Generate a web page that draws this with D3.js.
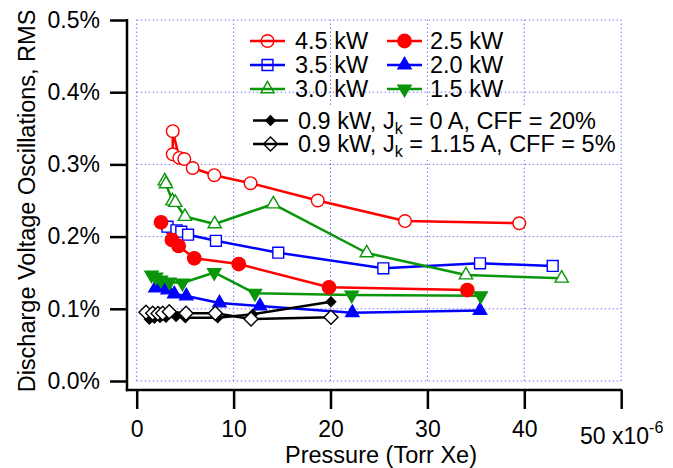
<!DOCTYPE html>
<html>
<head>
<meta charset="utf-8">
<script src="https://cdn.jsdelivr.net/npm/d3@7"></script>
<style>
  html, body { margin: 0; padding: 0; background: #fff; }
  svg { display: block; font-family: "Liberation Sans", Arial, Helvetica, sans-serif; }
</style>
</head>
<body>
<svg id="chart" width="673" height="468"></svg>
<script>
// Pressure in units of 1e-6 Torr Xe, oscillation amplitude in percent RMS
const xTicks = [0, 10, 20, 30, 40, 50];
const yTicks = [0, 0.1, 0.2, 0.3, 0.4, 0.5];

const p45 = [3.72, 3.72, 4.40, 4.91, 5.78, 8.01, 11.75, 18.68, 27.69, 39.48];
const v45 = [0.314, 0.346, 0.309, 0.3075, 0.295, 0.285, 0.274, 0.250, 0.2215, 0.2185];

const p35 = [3.18, 4.1, 4.6, 5.3, 8.18, 14.61, 25.45, 35.43, 42.93];
const v35 = [0.2137, 0.2087, 0.2068, 0.2026, 0.1942, 0.1777, 0.1561, 0.163, 0.1593];

const p30 = [2.89, 3.02, 3.69, 3.98, 4.98, 8.05, 14.10, 23.74, 33.98, 43.86];
const v30 = [0.277, 0.273, 0.2493, 0.2472, 0.2278, 0.2175, 0.2451, 0.1773, 0.1468, 0.1422];

const p25 = [2.51, 3.64, 4.33, 5.94, 10.53, 19.85, 34.12];
const v25 = [0.2198, 0.1953, 0.187, 0.170, 0.162, 0.1298, 0.126];

const p20 = [1.94, 2.68, 3.2, 3.88, 5.12, 8.54, 12.72, 22.25, 35.43];
const v20 = [0.1288, 0.1309, 0.126, 0.1205, 0.1177, 0.108, 0.1039, 0.0946, 0.0976];

const p15 = [1.53, 1.99, 2.5, 3.38, 4.72, 8.0, 12.2, 22.19, 35.5];
const v15 = [0.1468, 0.144, 0.140, 0.137, 0.1357, 0.1503, 0.1215, 0.1191, 0.1181];

const p09a = [1.3, 1.82, 2.4, 3.02, 4.06, 5.02, 8.36, 11.97, 20.05];
const v09a = [0.0855, 0.0868, 0.0879, 0.0882, 0.0893, 0.0877, 0.0877, 0.0924, 0.1098];

const p09b = [0.96, 1.65, 2.2, 2.68, 3.36, 5.09, 8.11, 11.8, 20.05];
const v09b = [0.0952, 0.0938, 0.0935, 0.0938, 0.096, 0.0938, 0.0938, 0.0859, 0.0882];

const RED = "#ff0000", BLUE = "#0000ff", GREEN = "#0a960a", BLACK = "#000000";

const series = [
  { label: "4.5 kW", p: p45, v: v45, color: RED,   shape: "circle",   filled: false },
  { label: "3.5 kW", p: p35, v: v35, color: BLUE,  shape: "square",   filled: false },
  { label: "3.0 kW", p: p30, v: v30, color: GREEN, shape: "triUp",    filled: false },
  { label: "2.5 kW", p: p25, v: v25, color: RED,   shape: "circle",   filled: true },
  { label: "2.0 kW", p: p20, v: v20, color: BLUE,  shape: "triUp",    filled: true },
  { label: "1.5 kW", p: p15, v: v15, color: GREEN, shape: "triDown",  filled: true },
  { label: "0.9 kW, J|k| = 0 A, CFF = 20%",   p: p09a, v: v09a, color: BLACK, shape: "diamondS", filled: true },
  { label: "0.9 kW, J|k| = 1.15 A, CFF = 5%", p: p09b, v: v09b, color: BLACK, shape: "diamond",  filled: false }
];

const FONT = 23.5, TICK_FONT = 23;

const svg = d3.select("#chart");
const x = d3.scaleLinear().domain([0, 50]).range([136.7, 621.2]);
const y = d3.scaleLinear().domain([0, 0.5]).range([381, 20]);

const axisX = 127, axisY = 390;

// marker path generator
function markerPath(shape) {
  switch (shape) {
    case "circle":   return d3.symbol(d3.symbolCircle, 125)();
    case "square":   return d3.symbol(d3.symbolSquare, 118)();
    case "triUp":    return d3.symbol(d3.symbolTriangle, 76)();
    case "triDown":  return d3.symbol(d3.symbolTriangle, 76)();
    case "diamond":  return d3.symbol(d3.symbolSquare, 98)();
    case "diamondS": return d3.symbol(d3.symbolSquare, 45)();
  }
}
function markerRotate(shape) {
  if (shape === "triDown") return 180;
  if (shape === "diamond" || shape === "diamondS") return 45;
  return 0;
}
function markerSize(s) {
  return s.shape === "circle" && s.filled ? d3.symbol(d3.symbolCircle, 140)() : markerPath(s.shape);
}

// grid (dotted)
const grid = svg.append("g").attr("stroke", "#7373ff").attr("stroke-width", 1)
  .attr("stroke-dasharray", "1.5,2.5").attr("fill", "none");
grid.selectAll("line.gx").data(xTicks).join("line")
  .attr("x1", d => x(d)).attr("x2", d => x(d))
  .attr("y1", y(0)).attr("y2", y(0.5));
grid.selectAll("line.gy").data(yTicks).join("line")
  .attr("x1", x(0)).attr("x2", x(50))
  .attr("y1", d => y(d)).attr("y2", d => y(d));

// axes
const yAxis = d3.axisLeft(y).tickValues(yTicks).tickSize(17).tickSizeOuter(0).tickPadding(10)
  .tickFormat(d => d3.format(".1f")(d) + "%");
const gy = svg.append("g").attr("transform", `translate(${axisX},0)`).call(yAxis);
const xAxis = d3.axisBottom(x).tickValues(xTicks).tickSize(19).tickSizeOuter(0).tickPadding(12)
  .tickFormat(d3.format("d"));
const gx = svg.append("g").attr("transform", `translate(0,${axisY})`).call(xAxis);

[gx, gy].forEach(g => {
  g.select(".domain").remove();
  g.selectAll(".tick line").attr("stroke", "#000").attr("stroke-width", 2.5);
  g.selectAll(".tick text").attr("fill", "#000").attr("font-size", TICK_FONT)
    .attr("font-family", "'Liberation Sans', Arial, sans-serif");
});

// exponent on the last x label
gx.selectAll(".tick text").filter(d => d === 50).each(function () {
  const t = d3.select(this);
  t.text(null).attr("transform", "translate(0,7)");
  t.append("tspan").text("50 x10");
  t.append("tspan").text("-6").attr("font-size", 16).attr("dy", "-0.7em");
});

svg.append("line").attr("x1", axisX).attr("x2", axisX).attr("y1", y(0.5) - 1).attr("y2", axisY + 1.25)
  .attr("stroke", "#000").attr("stroke-width", 2.5);
svg.append("line").attr("x1", axisX - 1.25).attr("x2", x(50) + 1).attr("y1", axisY).attr("y2", axisY)
  .attr("stroke", "#000").attr("stroke-width", 2.5);

// axis titles
svg.append("text").attr("transform", "translate(35,201) rotate(-90)")
  .attr("text-anchor", "middle").attr("font-size", FONT).text("Discharge Voltage Oscillations, RMS");
svg.append("text").attr("x", 381).attr("y", 463)
  .attr("text-anchor", "middle").attr("font-size", FONT).text("Pressure (Torr Xe)");

// series
const line = d3.line().x(d => x(d[0])).y(d => y(d[1]));
const plot = svg.append("g");
series.forEach(s => {
  const pts = s.p.map((p, i) => [p, s.v[i]]);
  plot.append("path").datum(pts).attr("d", line)
    .attr("fill", "none").attr("stroke", s.color).attr("stroke-width", 2.5)
    .attr("stroke-linejoin", "round");
});
series.forEach(s => {
  const pts = s.p.map((p, i) => [p, s.v[i]]);
  plot.append("g").selectAll("path").data(pts).join("path")
    .attr("d", markerSize(s))
    .attr("transform", d => `translate(${x(d[0])},${y(d[1])}) rotate(${markerRotate(s.shape)})`)
    .attr("fill", s.filled ? s.color : "#fff")
    .attr("stroke", s.color).attr("stroke-width", 1.4);
});

// legend
const legend = svg.append("g");
legend.append("rect").attr("x", 247).attr("y", 107).attr("width", 373).attr("height", 53).attr("fill", "#fff");

const legendRows = [
  { s: series[0], lx: 250, tx: 295, cy: 41 },
  { s: series[1], lx: 250, tx: 295, cy: 65 },
  { s: series[2], lx: 250, tx: 295, cy: 89 },
  { s: series[3], lx: 387, tx: 430, cy: 41 },
  { s: series[4], lx: 387, tx: 430, cy: 65 },
  { s: series[5], lx: 387, tx: 430, cy: 89 },
  { s: series[6], lx: 253, tx: 298, cy: 120.5 },
  { s: series[7], lx: 253, tx: 298, cy: 144 }
];
legendRows.forEach(r => {
  const g = legend.append("g");
  g.append("line").attr("x1", r.lx).attr("x2", r.lx + 35).attr("y1", r.cy).attr("y2", r.cy)
    .attr("stroke", r.s.color).attr("stroke-width", 2.5);
  g.append("path").attr("d", markerSize(r.s))
    .attr("transform", `translate(${r.lx + 17.5},${r.cy}) rotate(${markerRotate(r.s.shape)})`)
    .attr("fill", r.s.filled ? r.s.color : "none")
    .attr("stroke", r.s.color).attr("stroke-width", 1.4);
  const t = g.append("text").attr("x", r.tx).attr("y", r.cy).attr("dy", "0.36em").attr("font-size", FONT);
  const parts = r.s.label.split("|");
  if (parts.length === 1) {
    t.text(r.s.label);
  } else {
    t.append("tspan").text(parts[0]);
    t.append("tspan").text(parts[1]).attr("font-size", 16).attr("dy", 5);
    t.append("tspan").text(parts[2]).attr("dy", -5);
  }
});
</script>
</body>
</html>
